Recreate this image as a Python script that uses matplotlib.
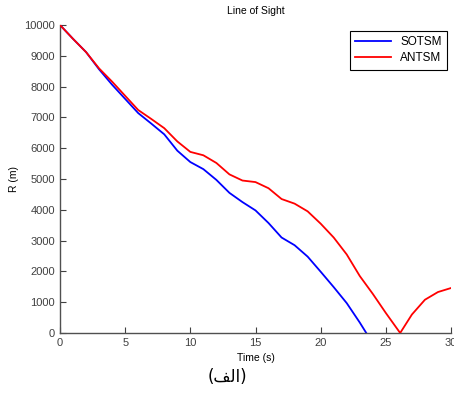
import matplotlib
matplotlib.use('Agg')
import matplotlib.pyplot as plt

plt.rcParams['font.family'] = ['Liberation Sans', 'DejaVu Sans']

# Range over time for both guidance laws
t_sotsm = [0, 1, 2, 3, 4, 5, 6, 7, 8, 9, 10, 11, 12, 13, 14, 15, 16, 17, 18, 19, 20, 21, 22, 23, 23.5]
r_sotsm = [10000, 9550, 9120, 8560, 8060, 7600, 7140, 6800, 6450, 5920, 5550, 5320, 4970, 4550, 4250,
           3980, 3570, 3100, 2850, 2480, 1990, 1490, 970, 340, 0]

t_antsm = [0, 1, 2, 3, 4, 5, 6, 7, 8, 9, 10, 11, 12, 13, 14, 15, 16, 17, 18, 19, 20, 21, 22, 23, 24, 25,
           26.1, 27, 28, 29, 30]
r_antsm = [10000, 9550, 9120, 8590, 8160, 7700, 7240, 6950, 6650, 6220, 5880, 5770, 5520, 5150, 4950,
           4900, 4700, 4350, 4200, 3950, 3550, 3100, 2550, 1850, 1270, 650, 0, 600, 1080, 1330, 1460]

x_ticks = [0, 5, 10, 15, 20, 25, 30]
y_ticks = list(range(0, 10001, 1000))

fig = plt.figure(figsize=(4.54, 4.09), dpi=100)
ax = fig.add_axes([60 / 454, 76 / 409, 391 / 454, 308 / 409])

ax.plot(t_sotsm, r_sotsm, color='#0000ff', lw=1.3, label='SOTSM', zorder=2)
ax.plot(t_antsm, r_antsm, color='#ff0000', lw=1.3, label='ANTSM', zorder=3)

ax.set_xlim(0, 30)
ax.set_ylim(0, 10000)
ax.set_xticks(x_ticks)
ax.set_yticks(y_ticks)
ax.tick_params(direction='in', length=4, labelsize=8, colors='#404040', width=0.8)
for s in ['top', 'right']:
    ax.spines[s].set_visible(False)
for s in ['left', 'bottom']:
    ax.spines[s].set_color('#505050')
    ax.spines[s].set_linewidth(1.0)

ax.set_title('Line of Sight', fontsize=7.5, pad=8)
ax.set_xlabel('Time (s)', fontsize=7.5, labelpad=4)
ax.set_ylabel('R (m)', fontsize=7.5, labelpad=4)

leg = ax.legend(loc='upper right', bbox_to_anchor=(447 / 454, 1 - 31 / 409), bbox_transform=fig.transFigure,
                fontsize=8.5, fancybox=False, framealpha=1, edgecolor='black', handlelength=3.0,
                borderpad=0.45, labelspacing=0.35, handletextpad=0.8, borderaxespad=0)
leg.get_frame().set_linewidth(0.8)

# caption "(الف)" written with shaped presentation forms in visual order
fig.text(227 / 454, 1 - 377 / 409, '(\ufed2\ufedf\ufe8d)', ha='center', va='center', fontsize=12,
         family=['DejaVu Sans'])

fig.savefig('out.png', dpi=100)
